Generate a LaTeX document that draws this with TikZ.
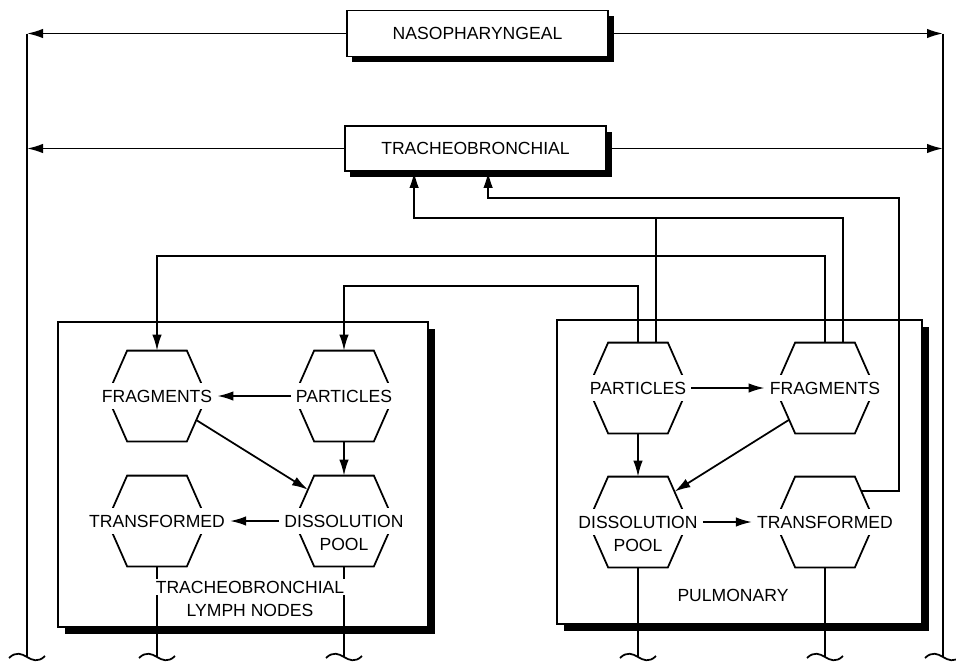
\documentclass[tikz,border=0pt]{standalone}
\usepackage{fontspec}
\setmainfont{Liberation Sans}
\usepackage{tikz}
\usetikzlibrary{positioning,calc,shadows,arrows.meta}

\begin{document}
\begin{tikzpicture}[x=0.2mm, y=-0.2mm, >={Latex[length=3.2mm,width=1.9mm]}, line width=1pt,
        font=\fontsize{10}{12}\selectfont,
        compart/.style={draw, fill=white, minimum width=52.2mm, minimum height=9.2mm, drop shadow={shadow xshift=1.1mm, shadow yshift=-1.1mm, fill=black, opacity=1}},
        region/.style={draw, fill=white, drop shadow={shadow xshift=1.4mm, shadow yshift=-1.4mm, fill=black, opacity=1}},
        hexcell/.style={minimum width=19.6mm, minimum height=17.8mm, inner sep=0pt},
        hexlabel/.style={fill=white, inner xsep=2.5pt, inner ysep=4pt}]
        \useasboundingbox (0,0) rectangle (956,663);

        % Compartments at the top
        \node[compart] (naso) at (477.5,33.5) {NASOPHARYNGEAL};
        \node[compart, minimum height=9mm] (tb) at (475.5,148.5) {TRACHEOBRONCHIAL};

        % Two regions with shadow
        \node[region, minimum width=74mm, minimum height=61mm] (lbox) at (243,474.5) {};
        \node[region, minimum width=73mm, minimum height=60.8mm] (rbox) at (739.5,472) {};

        % Hexagon cells
        \node[hexcell] (lfra) at (157,396) {};
        \node[hexcell] (lpar) at (344,396) {};
        \node[hexcell] (ltra) at (157,521) {};
        \node[hexcell] (ldis) at (344,521) {};
        \node[hexcell] (rpar) at (638,388) {};
        \node[hexcell] (rfra) at (825,388) {};
        \node[hexcell] (rdis) at (638,522) {};
        \node[hexcell] (rtra) at (825,522) {};
        \foreach \c in {lfra,lpar,ltra,ldis,rpar,rfra,rdis,rtra}
            \draw ([xshift=4mm]\c.north west) -- ([xshift=-4mm]\c.north east) -- (\c.east)
                -- ([xshift=-4mm]\c.south east) -- ([xshift=4mm]\c.south west) -- (\c.west) -- cycle;

        \node[hexlabel] (lfrat) at (lfra) {FRAGMENTS};
        \node[hexlabel] (lpart) at (lpar) {PARTICLES};
        \node[hexlabel] (ltrat) at (ltra) {TRANSFORMED};
        \node[hexlabel] (ldist) at (ldis) {DISSOLUTION};
        \node[hexlabel] (ldisp) at ([yshift=-4.6mm]ldist) {POOL};
        \node[hexlabel] (rpart) at (rpar) {PARTICLES};
        \node[hexlabel] (rfrat) at (rfra) {FRAGMENTS};
        \node[hexlabel] (rdist) at (rdis) {DISSOLUTION};
        \node[hexlabel] (rdisp) at ([yshift=-4.6mm]rdist) {POOL};
        \node[hexlabel] (rtrat) at (rtra) {TRANSFORMED};

        % Flows inside the regions
        \draw[->] (lpart) -- (lfrat);
        \draw[->] (lpar.south) -- (ldis.north);
        \draw[->] ($(lfra.east)!0.53!([xshift=-4mm]lfra.south east)$) -- ($(ldis.west)!0.69!([xshift=4mm]ldis.north west)$);
        \draw[->] (ldist) -- (ltrat);
        \draw[->] (rpart) -- (rfrat);
        \draw[->] (rpar.south) -- (rdis.north);
        \draw[->] ($(rfra.west)!0.7!([xshift=4mm]rfra.south west)$) -- ($(rdis.east)!0.67!([xshift=-4mm]rdis.north east)$);
        \draw[->] (rdist) -- (rtrat);

        % Routing levels
        \coordinate (routeB) at (0,218);
        \coordinate (routeC) at (0,256);
        \coordinate (routeD) at (0,286);
        \coordinate (routeX) at (899,198);
        \coordinate (tbin1) at ([xshift=14mm]tb.south west);
        \coordinate (tbin2) at ([xshift=28.8mm]tb.south west);
        \coordinate (rparup) at ([xshift=3.6mm]rpar.north);
        \coordinate (rfraup) at ([xshift=3.6mm]rfra.north);
        \coordinate (rtraout) at ($(rtra.east)!0.69!([xshift=-4mm]rtra.north east)$);

        \draw[->] (rpar.north) |- (lpar.north |- routeD) -- (lpar.north);
        \draw[->] (rfra.north) |- (lfra.north |- routeC) -- (lfra.north);
        \draw[->] (rfraup) |- (tbin1 |- routeB) -- (tbin1);
        \draw (rparup) -- (rparup |- routeB);
        \draw[->] (rtraout) -| (routeX) -| (tbin2);

        % Outer clearance lines
        \coordinate (lout) at (27,657);
        \coordinate (rout) at (943,657);
        \draw[->] (naso) -- (naso -| lout);
        \draw[->] (naso) -- (naso -| rout);
        \draw[->] (tb) -- (tb -| lout);
        \draw[->] (tb) -- (tb -| rout);
        \draw (naso -| lout) -- (lout);
        \draw (naso -| rout) -- (rout);

        % Lines leaving at the bottom
        \foreach \c in {ltra,ldis,rdis,rtra} {
            \coordinate (\c-foot) at (\c.south |- lout);
            \draw (\c.south) -- (\c-foot);
        }
        \foreach \c in {lout,rout,ltra-foot,ldis-foot,rdis-foot,rtra-foot}
            \draw ([xshift=-3.6mm,yshift=-0.2mm]\c) .. controls ([xshift=-2.2mm,yshift=1.2mm]\c) and ([xshift=-1mm,yshift=0.6mm]\c) .. (\c)
                .. controls ([xshift=1mm,yshift=-0.6mm]\c) and ([xshift=2.2mm,yshift=-1.2mm]\c) .. ([xshift=3.6mm,yshift=0.2mm]\c);

        % Region names
        \node[fill=white, inner sep=1pt] (tblnA) at (250,587) {TRACHEOBRONCHIAL};
        \node[inner sep=1pt] (tblnB) at (250,610) {LYMPH NODES};
        \node[inner sep=1pt] (pulm) at (733,595) {PULMONARY};
    \end{tikzpicture}
\end{document}
